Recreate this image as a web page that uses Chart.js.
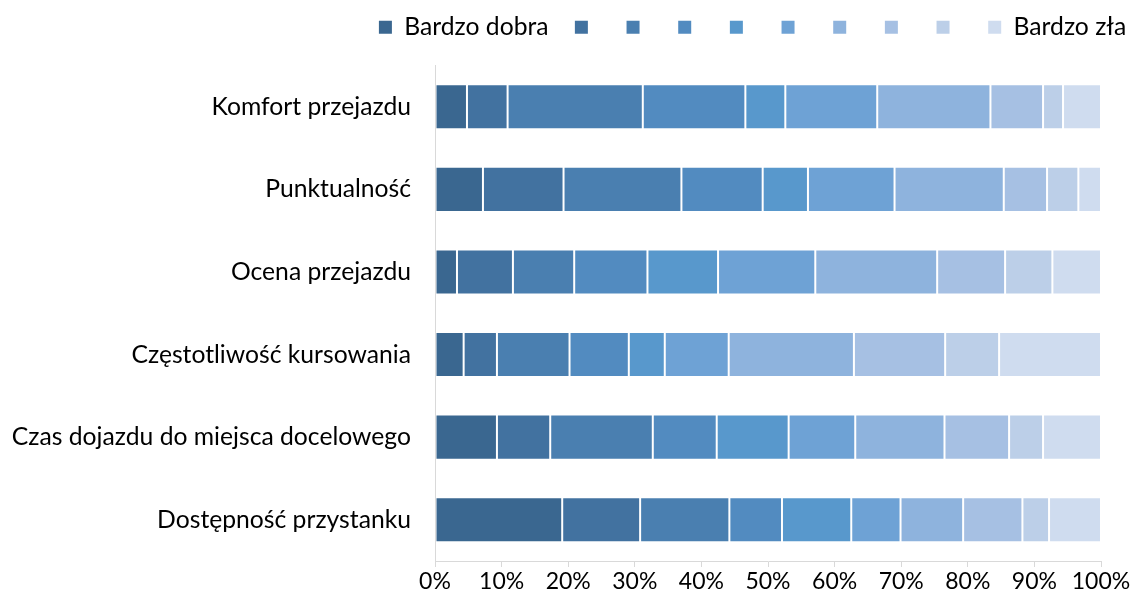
<!DOCTYPE html>
<html>
<head>
<meta charset="utf-8">
<script src="https://cdn.jsdelivr.net/npm/chart.js@4"></script>
<style>
  html, body { margin: 0; padding: 0; background: #fff; }
  #wrap { width: 1134px; height: 602px; }
</style>
</head>
<body>
<div id="wrap"><canvas id="chart" width="1134" height="602"></canvas></div>
<script>
// Categories (top to bottom)
const categories = [
  'Komfort przejazdu',
  'Punktualność',
  'Ocena przejazdu',
  'Częstotliwość kursowania',
  'Czas dojazdu do miejsca docelowego',
  'Dostępność przystanku'
];

// Legend labels, from "Bardzo dobra" to "Bardzo zła"
const seriesLabels = ['Bardzo dobra', '', '', '', '', '', '', '', '', 'Bardzo zła'];

// Shares in %, one array per rating level
const level1 = [4.8, 7.2, 3.3, 4.3, 9.3, 19.1];
const level2 = [6.1, 12.1, 8.4, 5.0, 8.0, 11.7];
const level3 = [20.3, 17.7, 9.2, 10.9, 15.4, 13.4];
const level4 = [15.4, 12.2, 11.0, 8.9, 9.6, 7.9];
const level5 = [6.0, 6.8, 10.6, 5.4, 10.8, 10.4];
const level6 = [13.8, 13.0, 14.6, 9.6, 10.0, 7.4];
const level7 = [17.0, 16.4, 18.3, 18.8, 13.4, 9.4];
const level8 = [7.9, 6.5, 10.2, 13.7, 9.7, 8.9];
const level9 = [3.0, 4.7, 7.1, 8.1, 5.1, 4.0];
const level10 = [5.7, 3.4, 7.3, 15.3, 8.7, 7.8];

const xTicks = [0, 10, 20, 30, 40, 50, 60, 70, 80, 90, 100];

const levels = [level1, level2, level3, level4, level5, level6, level7, level8, level9, level10];
const colors = ['#3a6790', '#4272a0', '#4a7fb0', '#528bc0', '#5898cc',
                '#6ea2d5', '#8eb3dd', '#a6c0e3', '#bccfe8', '#cfdcef'];

const FONT = 'Lato, "Open Sans", sans-serif';

// push the plot area down below the legend
const legendGap = {
  id: 'legendGap',
  beforeLayout(chart) {
    const legend = chart.legend;
    if (!legend || legend._gapPatched) return;
    const fit = legend.fit;
    legend.fit = function () { fit.call(this); this.height += 16; };
    legend._gapPatched = true;
  }
};

const ctx = document.getElementById('chart').getContext('2d');
new Chart(ctx, {
  type: 'bar',
  data: {
    labels: categories,
    datasets: levels.map((values, i) => ({
      label: seriesLabels[i],
      data: values,
      backgroundColor: colors[i],
      borderColor: 'rgba(255,255,255,0.18)',
      borderWidth: 1,
      borderSkipped: false,
      barPercentage: 0.545,
      categoryPercentage: 1
    }))
  },
  options: {
    indexAxis: 'y',
    responsive: false,
    animation: false,
    layout: { padding: { top: 7, left: 0, right: 0, bottom: 0 } },
    plugins: {
      tooltip: { enabled: false },
      legend: {
        position: 'top',
        align: 'end',
        labels: {
          boxWidth: 13,
          boxHeight: 13,
          padding: 7.8,
          color: '#000',
          font: { family: FONT, size: 24.7 },
          generateLabels(chart) {
            const items = Chart.defaults.plugins.legend.labels.generateLabels(chart);
            items.forEach((item, i) => {
              item.lineWidth = 0;
              if (i < items.length - 1) item.text = item.text + '\u2003';
            });
            return items;
          }
        }
      }
    },
    scales: {
      x: {
        stacked: true,
        min: 0,
        max: 100,
        afterBuildTicks(scale) {
          scale.ticks = xTicks.map(v => ({ value: v }));
        },
        afterFit(scale) {
          scale.height = 41;
          scale.paddingRight = 33;
          scale.paddingLeft = 0;
        },
        grid: {
          drawOnChartArea: false,
          drawTicks: true,
          tickLength: 6,
          color: '#d9d9d9'
        },
        border: { display: true, color: '#d9d9d9', width: 1 },
        ticks: {
          padding: 1,
          color: '#000',
          font: { family: FONT, size: 23 },
          maxRotation: 0,
          callback: value => value + '%'
        }
      },
      y: {
        stacked: true,
        afterFit(scale) {
          scale.width = 435;
        },
        grid: { display: false, drawTicks: false },
        border: { display: true, color: '#d9d9d9', width: 1 },
        ticks: {
          padding: 24,
          color: '#000',
          font: { family: FONT, size: 24.7 }
        }
      }
    }
  },
  plugins: [legendGap]
});
</script>
</body>
</html>
